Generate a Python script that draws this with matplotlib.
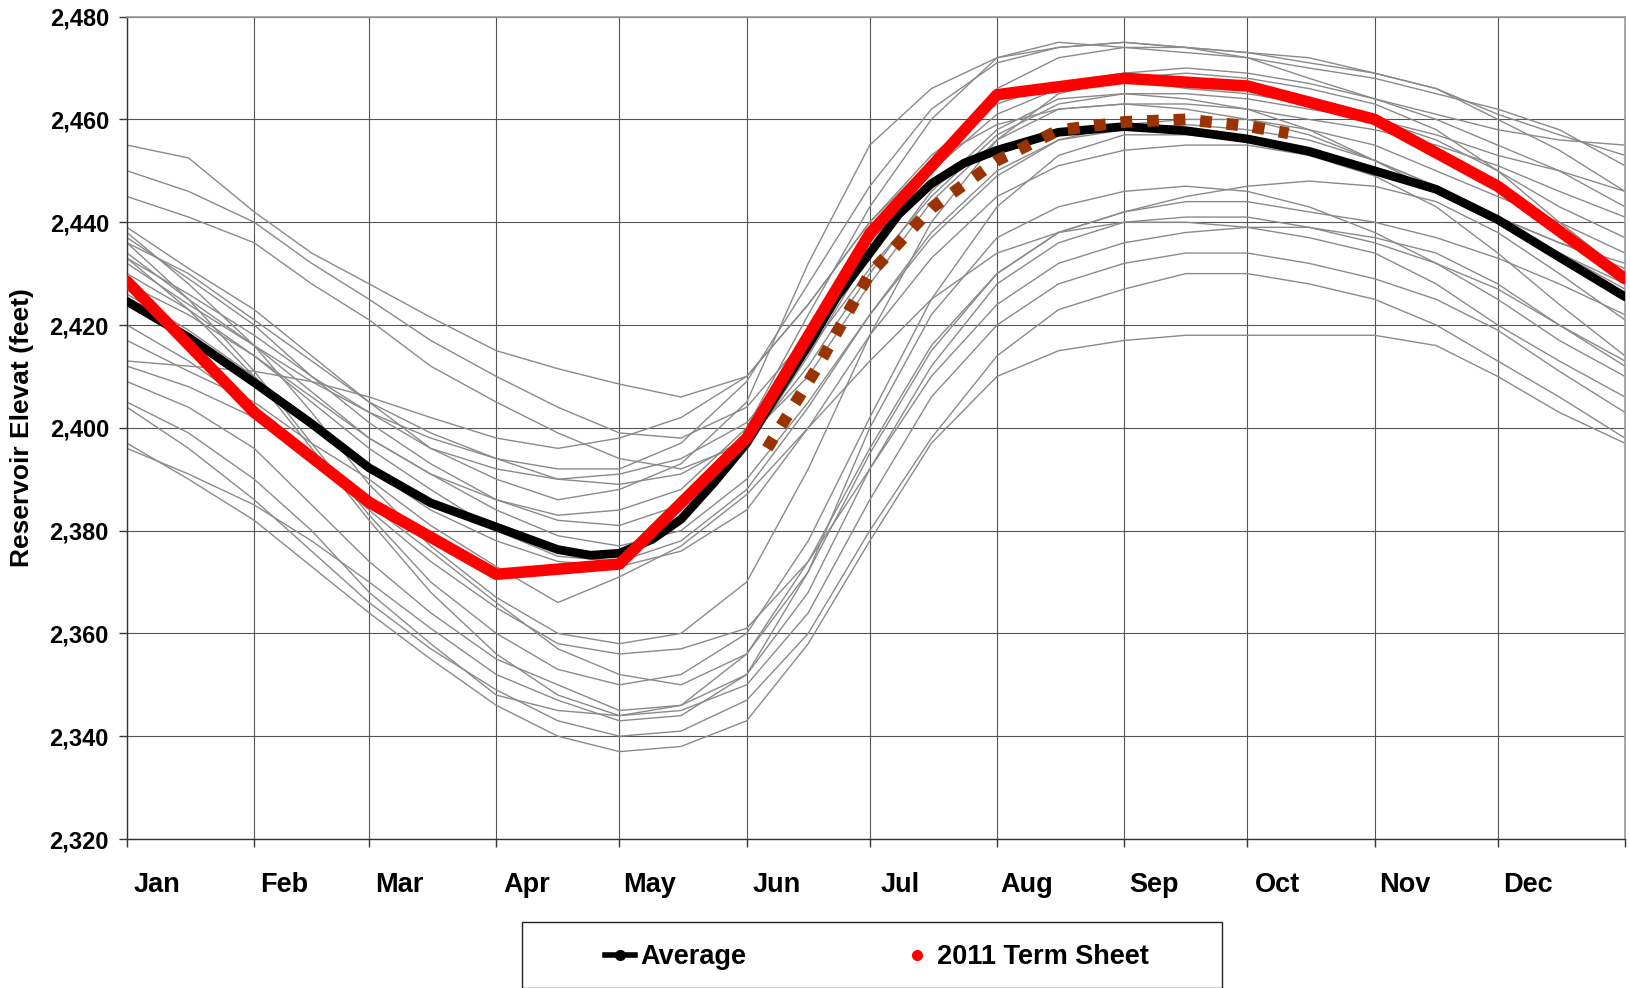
import matplotlib
matplotlib.use("Agg")
import matplotlib.pyplot as plt
from matplotlib.lines import Line2D
from matplotlib.patches import Rectangle

plt.rcParams['font.family'] = ['Liberation Sans', 'DejaVu Sans']
plt.rcParams['font.weight'] = 'bold'

# day of year at which each month starts (last one = end of year)
month_start = [0, 31, 59, 90, 120, 151, 181, 212, 243, 273, 304, 334, 365]
month_names = ["Jan", "Feb", "Mar", "Apr", "May", "Jun",
               "Jul", "Aug", "Sep", "Oct", "Nov", "Dec"]

# sample days for the historic years (1st + middle of each month)
days = [0, 15, 31, 45, 59, 74, 90, 105, 120, 135, 151, 166, 181,
        196, 212, 227, 243, 258, 273, 288, 304, 319, 334, 349, 365]

# historic years (gray lines)
hist_01 = [2455, 2452.5, 2442, 2434, 2428, 2421.5, 2415, 2411.5, 2408.5, 2406, 2410, 2424, 2440,
           2453, 2463, 2467, 2469, 2470, 2469, 2467, 2464, 2461, 2458, 2456, 2455]
hist_02 = [2450, 2446, 2440, 2432, 2425, 2417, 2410, 2404, 2399, 2398, 2404, 2418, 2436,
           2450, 2461, 2466, 2468, 2466, 2465, 2463, 2460, 2457, 2453, 2450, 2446]
hist_03 = [2445, 2441, 2436, 2428, 2421, 2412, 2405, 2399, 2394, 2392, 2397, 2412, 2430,
           2446, 2458, 2464, 2465, 2464, 2462, 2458, 2452, 2447, 2441, 2436, 2431]
hist_04 = [2439, 2431, 2423, 2414, 2405, 2396, 2390, 2386, 2388, 2393, 2405, 2432, 2455,
           2466, 2472, 2474, 2475, 2474, 2472, 2470, 2468, 2465, 2462, 2458, 2451]
hist_05 = [2437, 2429, 2420, 2410, 2401, 2393, 2386, 2382, 2381, 2385, 2396, 2414, 2434,
           2452, 2466, 2472, 2474, 2474, 2473, 2471, 2469, 2466, 2460, 2454, 2446]
hist_06 = [2436, 2430, 2421, 2413, 2405, 2399, 2394, 2390, 2389, 2391, 2398, 2410, 2428,
           2444, 2456, 2462, 2463, 2462, 2460, 2457, 2452, 2446, 2440, 2434, 2428]
hist_07 = [2434, 2425, 2416, 2407, 2398, 2391, 2386, 2383, 2384, 2388, 2400, 2422, 2443,
           2460, 2472, 2475, 2474, 2473, 2472, 2468, 2464, 2460, 2455, 2450, 2443]
hist_08 = [2433, 2426, 2418, 2410, 2403, 2396, 2392, 2390, 2391, 2394, 2401, 2415, 2431,
           2445, 2457, 2463, 2465, 2465, 2464, 2462, 2460, 2456, 2450, 2443, 2437]
hist_09 = [2432, 2424, 2416, 2409, 2403, 2398, 2394, 2392, 2392, 2397, 2409, 2428, 2447,
           2462, 2471, 2474, 2475, 2474, 2473, 2472, 2469, 2466, 2461, 2457, 2453]
hist_10 = [2430, 2423, 2414, 2406, 2398, 2391, 2384, 2379, 2377, 2380, 2390, 2405, 2422,
           2437, 2449, 2456, 2459, 2460, 2460, 2458, 2455, 2450, 2445, 2440, 2434]
hist_11 = [2417, 2411, 2405, 2397, 2390, 2381, 2373, 2366, 2371, 2377, 2387, 2400, 2413,
           2425, 2434, 2438, 2440, 2440, 2439, 2437, 2434, 2428, 2420, 2413, 2406]
hist_12 = [2412, 2408, 2402, 2394, 2385, 2376, 2366, 2357, 2352, 2350, 2356, 2372, 2395,
           2415, 2430, 2438, 2442, 2444, 2444, 2442, 2440, 2437, 2433, 2428, 2422]
hist_13 = [2409, 2404, 2396, 2385, 2374, 2364, 2355, 2350, 2345, 2346, 2352, 2368, 2392,
           2412, 2428, 2436, 2440, 2441, 2441, 2439, 2436, 2432, 2427, 2420, 2413]
hist_14 = [2405, 2399, 2390, 2380, 2368, 2358, 2348, 2345, 2344, 2345, 2350, 2364, 2386,
           2406, 2420, 2428, 2432, 2434, 2434, 2432, 2429, 2425, 2419, 2411, 2403]
hist_15 = [2404, 2396, 2386, 2376, 2366, 2357, 2349, 2343, 2340, 2341, 2347, 2360, 2380,
           2398, 2414, 2423, 2427, 2430, 2430, 2428, 2425, 2420, 2413, 2406, 2398]
hist_16 = [2397, 2390, 2382, 2373, 2364, 2355, 2346, 2340, 2337, 2338, 2343, 2358, 2378,
           2397, 2410, 2415, 2417, 2418, 2418, 2418, 2418, 2416, 2410, 2403, 2397]
hist_17 = [2396, 2391, 2385, 2378, 2370, 2361, 2352, 2347, 2343, 2344, 2352, 2372, 2400,
           2422, 2437, 2443, 2446, 2447, 2446, 2443, 2438, 2432, 2425, 2417, 2410]
hist_18 = [2436, 2425, 2411, 2397, 2383, 2370, 2360, 2353, 2350, 2352, 2360, 2378, 2402,
           2425, 2443, 2453, 2457, 2457, 2456, 2453, 2449, 2443, 2434, 2424, 2414]
hist_19 = [2438, 2428, 2416, 2403, 2389, 2377, 2367, 2360, 2358, 2360, 2370, 2392, 2418,
           2440, 2456, 2465, 2468, 2469, 2468, 2466, 2463, 2458, 2450, 2440, 2430]
hist_20 = [2433, 2423, 2410, 2396, 2382, 2368, 2356, 2348, 2344, 2346, 2356, 2374, 2396,
           2416, 2430, 2438, 2442, 2445, 2447, 2448, 2447, 2444, 2438, 2430, 2421]
hist_21 = [2420, 2413, 2404, 2394, 2384, 2374, 2365, 2358, 2356, 2357, 2361, 2374, 2392,
           2410, 2424, 2432, 2436, 2438, 2439, 2439, 2437, 2434, 2428, 2420, 2412]
hist_22 = [2426, 2419, 2410, 2400, 2392, 2384, 2378, 2374, 2373, 2376, 2384, 2400, 2418,
           2433, 2445, 2451, 2454, 2455, 2455, 2453, 2450, 2446, 2440, 2434, 2427]
hist_23 = [2413, 2412, 2411, 2409, 2406, 2402, 2398, 2396, 2398, 2402, 2410, 2424, 2440,
           2452, 2459, 2462, 2463, 2463, 2462, 2460, 2458, 2455, 2451, 2446, 2441]
hist_24 = [2428, 2422, 2414, 2405, 2396, 2388, 2380, 2375, 2374, 2378, 2388, 2404, 2422,
           2438, 2450, 2456, 2458, 2459, 2458, 2456, 2452, 2447, 2441, 2436, 2432]

history = [hist_01, hist_02, hist_03, hist_04, hist_05, hist_06, hist_07, hist_08,
           hist_09, hist_10, hist_11, hist_12, hist_13, hist_14, hist_15, hist_16,
           hist_17, hist_18, hist_19, hist_20, hist_21, hist_22, hist_23, hist_24]

# average of all years (read a bit denser where it curves)
avg_days = [0, 15, 31, 45, 59, 74, 90, 105, 113, 120, 128, 135, 143, 151, 158, 166,
            173, 181, 188, 196, 204, 212, 227, 243, 258, 273, 288, 304, 319, 334, 349, 365]
average = [2424.6, 2417.6, 2408.8, 2400.8, 2392.2, 2385.4, 2380.7, 2376.3, 2375.2, 2375.6,
           2378.3, 2382.2, 2389.3, 2397.0, 2406.0, 2416.0, 2425.5, 2434.0, 2441.5, 2447.5,
           2451.5, 2454.0, 2457.5, 2458.6, 2457.8, 2456.2, 2453.8, 2450.0, 2446.4, 2440.5,
           2433.2, 2425.5]

# 2011 term sheet, one value per 1st of month
term_sheet = [2428.5, 2403.0, 2385.5, 2371.5, 2373.5, 2398.0, 2437.8,
              2464.8, 2468.0, 2466.5, 2460.0, 2447.0, 2429.0]

# brown dotted forecast
fcst_days = [156, 168, 181, 196, 212, 227, 243, 258, 273, 283]
fcst_vals = [2396.0, 2411.5, 2430.0, 2442.7, 2452.0, 2457.9, 2459.5, 2460.0, 2458.7, 2457.3]

fig = plt.figure(figsize=(16.3, 9.88), dpi=100)
ax = fig.add_axes([0.0779, 0.1508, 0.919, 0.8324])

for h in history:
    ax.plot(days, h, color='#8a8a8a', lw=1.0, zorder=2)

ax.plot(avg_days, average, color='black', lw=6.3, solid_capstyle='round',
        solid_joinstyle='round', zorder=3)
ax.plot(fcst_days, fcst_vals, color='#993300', lw=8.5, linestyle=(0, (1, 1.25)),
        dash_capstyle='butt', zorder=4)
ax.plot(month_start, term_sheet, color='#ff0000', lw=8.3, solid_capstyle='round',
        solid_joinstyle='round', zorder=5)

ax.set_xlim(0, 365)
ax.set_ylim(2320, 2480)

ax.set_xticks(month_start)
ax.set_xticklabels([])
ax.set_xticks([m + 7.3 for m in month_start[:-1]], minor=True)
ax.set_xticklabels(month_names, minor=True, fontsize=19.5, fontweight='bold')
ax.tick_params(axis='x', which='minor', length=0, pad=24)

yt = list(range(2320, 2481, 20))
ax.set_yticks(yt)
ax.set_yticklabels([f"{v:,}" for v in yt], fontsize=17, fontweight='bold')
ax.tick_params(axis='both', which='major', direction='out', length=6, width=1,
               color='#333333')
ax.tick_params(axis='y', which='major', pad=7)

ax.grid(True, which='major', color='#555555', lw=0.8)
ax.set_axisbelow(True)
for s in ['left', 'bottom']:
    ax.spines[s].set_color('#333333')
    ax.spines[s].set_linewidth(1.0)
for s in ['top', 'right']:
    ax.spines[s].set_color('#999999')
    ax.spines[s].set_linewidth(1.2)

ax.set_ylabel('Reservoir Elevat (feet)', fontsize=19, fontweight='bold')
ax.yaxis.set_label_coords(-0.062, 0.5)

handles = [
    Line2D([], [], color='black', lw=4, marker='o', markersize=7),
    Line2D([], [], color='#ff0000', lw=0, marker='o', markersize=7),
]
fig.legend(handles, ['Average', '2011 Term Sheet'], loc='center',
           bbox_to_anchor=(0.538, 0.031), ncol=2, frameon=False,
           prop={'size': 19.5, 'weight': 'bold'}, handlelength=1.1,
           handletextpad=0.2, columnspacing=5.75)
fig.add_artist(Rectangle((522 / 1630, 0), 700 / 1630, 66 / 988,
                         transform=fig.transFigure, fill=False,
                         ec='#222222', lw=1.0))

fig.savefig('out.png', dpi=100)
